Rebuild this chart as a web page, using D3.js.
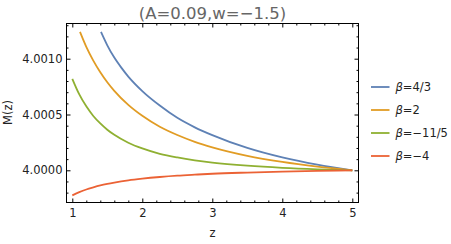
<!DOCTYPE html>
<html>
<head>
<meta charset="utf-8">
<script src="https://cdn.jsdelivr.net/npm/d3@7"></script>
<style>
  body { margin: 0; background: #fff; }
  text { font-family: "DejaVu Sans", sans-serif; }
</style>
</head>
<body>
<script>

// values
var title = "(A=0.09,w=\u22121.5)";
var names = ["4/3", "2", "\u221211/5", "\u22124"];
var colors = ["#5e81b5", "#e19c24", "#8fb032", "#eb6235"];

var zBlue = [1.41, 1.5, 1.6, 1.7, 1.8, 2.0, 2.25, 2.5, 2.75, 3.0, 3.5, 4.0, 4.5, 5.0];
var mBlue = [4.00124, 4.00112, 4.00101, 4.00092, 4.00084, 4.00071, 4.00058, 4.00047,
             4.000385, 4.000315, 4.0002, 4.000115, 4.00005, 4.0];

var zOrange = [1.11, 1.2, 1.3, 1.4, 1.5, 1.6, 1.8, 2.0, 2.25, 2.5, 2.75, 3.0, 3.5, 4.0, 4.5, 5.0];
var mOrange = [4.00124, 4.001106, 4.000983, 4.000879, 4.000789, 4.000712, 4.000586, 4.000488,
               4.00039, 4.000316, 4.000255, 4.000206, 4.00013, 4.000075, 4.000033, 4.0];

var zFull = [1.0, 1.1, 1.2, 1.3, 1.4, 1.5, 1.6, 1.8, 2.0, 2.25, 2.5, 2.75, 3.0, 3.5, 4.0, 4.5, 5.0];
var mGreen = [4.00082, 4.00068, 4.000573, 4.000487, 4.00042, 4.000364, 4.000318, 4.000247,
              4.000196, 4.000148, 4.000115, 4.000089, 4.000069, 4.000041, 4.000022, 4.000009, 4.0];
var mRed = [3.999775, 3.999804, 3.999828, 3.999847, 3.999864, 3.999878, 3.99989, 3.99991,
            3.999925, 3.99994, 3.999952, 3.999961, 3.999969, 3.99998, 3.999989, 3.999995, 4.0];

var xTicks = [1, 2, 3, 4, 5];
var xMinor = [1.2, 1.4, 1.6, 1.8, 2.2, 2.4, 2.6, 2.8, 3.2, 3.4, 3.6, 3.8, 4.2, 4.4, 4.6, 4.8];
var yTicks = [4.0, 4.0005, 4.001];
var yMinor = [3.9998, 3.9999, 4.0001, 4.0002, 4.0003, 4.0004, 4.0006, 4.0007, 4.0008, 4.0009,
              4.0011, 4.0012, 4.0013];

window.onload = function() { draw(); };

function draw() {

  var w = 451, h = 244;
  var frame = {left: 66.5, right: 358.5, top: 23.5, bottom: 202.5};

  var svg = d3.select("body")
              .append("svg")
              .attr("width", w)
              .attr("height", h);

  // scales
  var xScale = d3.scaleLinear().domain([1, 5]).range([72.3, 352.3]);
  var yScale = d3.scaleLinear().domain([4.0, 4.001]).range([170.3, 58.7]);

  // curves
  var series = [
    {z: zBlue, m: mBlue},
    {z: zOrange, m: mOrange},
    {z: zFull, m: mGreen},
    {z: zFull, m: mRed}
  ];

  var line = d3.line()
               .x(function(d) { return xScale(d[0]); })
               .y(function(d) { return yScale(d[1]); })
               .curve(d3.curveMonotoneX);

  svg.append("g")
     .selectAll("path")
     .data(series)
     .enter()
     .append("path")
     .attr("d", function(s) { return line(d3.zip(s.z, s.m)); })
     .attr("fill", "none")
     .attr("stroke", function(s, i) { return colors[i]; })
     .attr("stroke-width", 1.8);

  // axes with inward ticks
  function styleAxis(g) {
    g.select(".domain").remove();
    g.selectAll("line").attr("stroke", "#000");
    g.selectAll("text").attr("fill", "#222").style("font-size", "11.5px")
     .style("font-family", "DejaVu Sans, sans-serif");
  }

  svg.append("g")
     .attr("transform", "translate(0," + frame.bottom + ")")
     .call(d3.axisBottom(xScale).tickValues(xTicks).tickSize(-4).tickPadding(6.5)
           .tickFormat(d3.format("d")))
     .call(styleAxis);
  svg.append("g")
     .attr("transform", "translate(0," + frame.bottom + ")")
     .call(d3.axisBottom(xScale).tickValues(xMinor).tickSize(-2).tickFormat(""))
     .call(styleAxis);
  svg.append("g")
     .attr("transform", "translate(0," + frame.top + ")")
     .call(d3.axisTop(xScale).tickValues(xTicks).tickSize(-4).tickFormat(""))
     .call(styleAxis);
  svg.append("g")
     .attr("transform", "translate(0," + frame.top + ")")
     .call(d3.axisTop(xScale).tickValues(xMinor).tickSize(-2).tickFormat(""))
     .call(styleAxis);

  svg.append("g")
     .attr("transform", "translate(" + frame.left + ",0)")
     .call(d3.axisLeft(yScale).tickValues(yTicks).tickSize(-4).tickPadding(4)
           .tickFormat(d3.format(".4f")))
     .call(styleAxis);
  svg.append("g")
     .attr("transform", "translate(" + frame.left + ",0)")
     .call(d3.axisLeft(yScale).tickValues(yMinor).tickSize(-2).tickFormat(""))
     .call(styleAxis);
  svg.append("g")
     .attr("transform", "translate(" + frame.right + ",0)")
     .call(d3.axisRight(yScale).tickValues(yTicks).tickSize(-4).tickFormat(""))
     .call(styleAxis);
  svg.append("g")
     .attr("transform", "translate(" + frame.right + ",0)")
     .call(d3.axisRight(yScale).tickValues(yMinor).tickSize(-2).tickFormat(""))
     .call(styleAxis);

  // frame
  svg.append("rect")
     .attr("x", frame.left)
     .attr("y", frame.top)
     .attr("width", frame.right - frame.left)
     .attr("height", frame.bottom - frame.top)
     .attr("fill", "none")
     .attr("stroke", "#000")
     .attr("stroke-width", 1);

  // labels
  svg.append("text")
     .attr("x", 212.5)
     .attr("y", 236.5)
     .attr("text-anchor", "middle")
     .style("font-size", "11.5px")
     .attr("fill", "#222")
     .text("z");

  svg.append("text")
     .attr("transform", "translate(12,112.5) rotate(-90)")
     .attr("text-anchor", "middle")
     .style("font-size", "11.5px")
     .attr("fill", "#222")
     .text("M(z)");

  svg.append("text")
     .attr("x", 212.5)
     .attr("y", 18.5)
     .attr("text-anchor", "middle")
     .style("font-size", "16.5px")
     .attr("fill", "#666")
     .text(title);

  // legend
  var legend = svg.selectAll(".legend")
                  .data(names)
                  .enter().append("g")
                  .attr("class", "legend")
                  .attr("transform", function(d, i) { return "translate(0," + (87 + i * 23) + ")"; });

  legend.append("line")
        .attr("x1", 371)
        .attr("x2", 389.5)
        .attr("stroke", function(d, i) { return colors[i]; })
        .attr("stroke-width", 1.8);

  var label = legend.append("text")
                    .attr("x", 395.5)
                    .attr("dy", "0.36em")
                    .style("font-size", "11.5px")
                    .attr("fill", "#222");
  label.append("tspan")
       .style("font-style", "italic")
       .text("\u03b2");
  label.append("tspan")
       .text(function(d) { return "=" + d; });
}

</script>
</body>
</html>
